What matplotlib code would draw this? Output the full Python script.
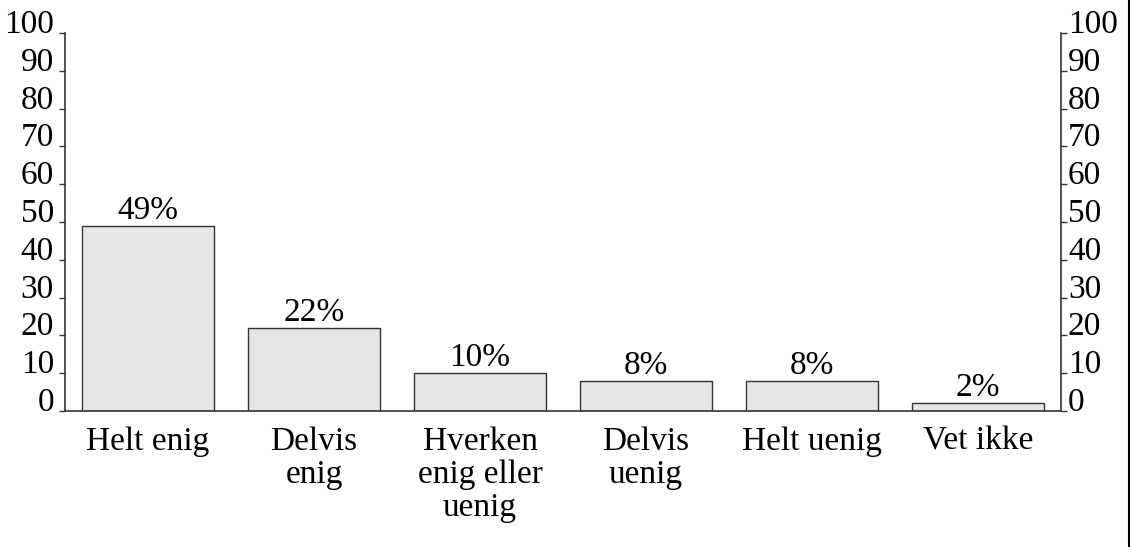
import matplotlib
matplotlib.use("Agg")
import matplotlib.pyplot as plt
from matplotlib.lines import Line2D

categories = ["Helt enig", "Delvis\nenig", "Hverken\nenig eller\nuenig", "Delvis\nuenig", "Helt uenig", "Vet ikke"]
values = [49, 22, 10, 8, 8, 2]
value_labels = ["49%", "22%", "10%", "8%", "8%", "2%"]
yticks = [0, 10, 20, 30, 40, 50, 60, 70, 80, 90, 100]

plt.rcParams['font.family'] = ['Liberation Serif', 'DejaVu Serif']
FS = 24

fig = plt.figure(figsize=(11.3, 5.47), dpi=100)
ax = fig.add_axes([65/1130, 1 - 411/547, (1061-65)/1130, (411-33)/547])

x = list(range(len(categories)))
bars = ax.bar(x, values, width=0.8, color="#e6e6e6", edgecolor="#333333", linewidth=1.0, zorder=2)
for xi, v, lab in zip(x, values, value_labels):
    ax.annotate(lab, (xi, v), xytext=(0, 0), textcoords="offset points",
                ha="center", va="bottom", fontsize=FS, color="black")

ax.set_xlim(-0.5, len(categories) - 0.5)
ax.set_ylim(0, 100)
ax.set_yticks(yticks)
ax.set_yticklabels([str(t) for t in yticks])
ax.set_xticks(x)
ax.set_xticklabels(categories, fontsize=FS, linespacing=1.12, va="top")
ax.tick_params(axis="x", length=0, pad=11)
ax.tick_params(axis="y", length=4, width=1, color="#333333", labelsize=FS, pad=4, direction="out")
for lab in ax.get_yticklabels():
    lab.set_va("baseline")

ax.spines["top"].set_visible(False)
ax.spines["right"].set_visible(False)
for s in ["left", "bottom"]:
    ax.spines[s].set_color("#333333")
    ax.spines[s].set_linewidth(1.2)

ax2 = ax.twinx()
ax2.set_ylim(0, 100)
ax2.set_yticks(yticks)
ax2.set_yticklabels([str(t) for t in yticks])
ax2.tick_params(axis="y", length=4, width=1, color="#333333", labelsize=FS, pad=1, direction="out")
for lab in ax2.get_yticklabels():
    lab.set_va("baseline")
for s in ["top", "left", "bottom"]:
    ax2.spines[s].set_visible(False)
ax2.spines["right"].set_color("#333333")
ax2.spines["right"].set_linewidth(1.2)

fig.add_artist(Line2D([1 - 0.8/1130, 1 - 0.8/1130], [0, 1], transform=fig.transFigure, color="black", linewidth=1.5))

fig.savefig("out.png", dpi=100)
